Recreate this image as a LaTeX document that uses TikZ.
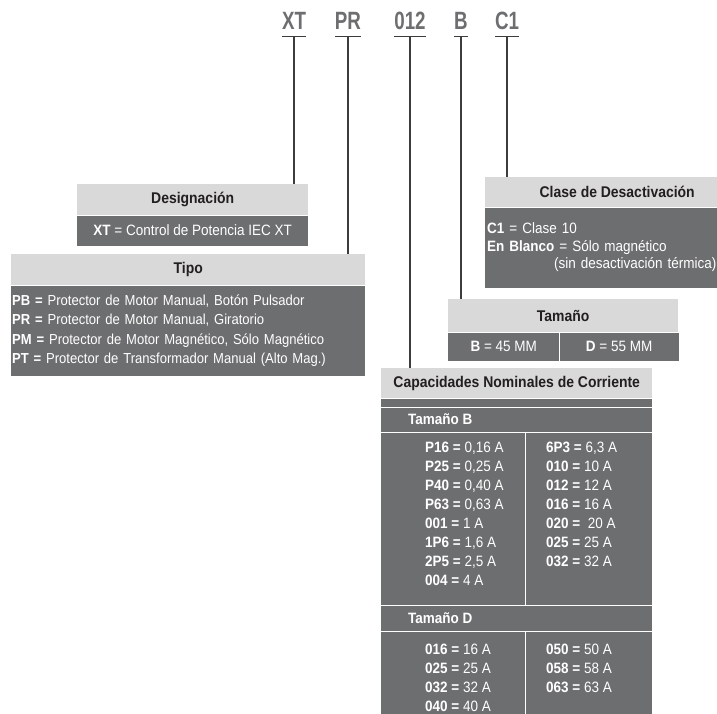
\documentclass[tikz,border=0pt]{standalone}
\usepackage{fontspec}
\setmainfont[FakeStretch=0.9]{Liberation Sans}
\newfontfamily\codefont[FakeStretch=0.75]{Liberation Sans}
\usetikzlibrary{positioning}
\definecolor{headgrey}{HTML}{D9D9DA}
\definecolor{bodygrey}{HTML}{6D6E70}
\definecolor{inkblack}{HTML}{231F20}
\definecolor{stemgrey}{HTML}{3C3C3C}
\tikzset{head/.style = {fill = headgrey, text = inkblack, inner sep = 0pt, font = \bfseries\fontsize{15.5}{18}\selectfont}}
\tikzset{body/.style = {fill = bodygrey, text = white, inner sep = 0pt, font = \fontsize{15}{19.3}\selectfont}}
\tikzset{code/.style = {text = bodygrey, inner sep = 0pt, font = \codefont\bfseries\fontsize{25}{25}\selectfont}}
\tikzset{cell/.style = {text = white, inner sep = 0pt, align = left, font = \fontsize{15}{19}\selectfont}}
\tikzset{stem/.style = {draw = stemgrey, line width = 1.3pt}}
\tikzset{rule/.style = {draw = white, line width = 1pt}}

\begin{document}
\begin{tikzpicture}[x = 1pt, y = -1pt]
\useasboundingbox (0, 0) rectangle (717, 714);

% code letters
\node[code, anchor = base] (xt) at (294, 30) {XT};
\node[code, anchor = base] (pr) at (348, 30) {PR};
\node[code, anchor = base] (amp) at (410, 30) {012};
\node[code, anchor = base] (size) at (461, 30) {B};
\node[code, anchor = base] (trip) at (507, 30) {C1};

% Designacion
\node[head, anchor = north west, minimum width = 231, minimum height = 31] (desig) at (77, 184) {Designación};
\node[body, below = 0pt of desig, minimum width = 231, minimum height = 30] (desigtxt) {\textbf{XT} = Control de Potencia IEC XT};

% Tipo
\node[head, anchor = north west, minimum width = 354, minimum height = 31] (tipo) at (11, 254) {Tipo};
\node[body, below = 0pt of tipo, minimum width = 354, minimum height = 90, text width = 352, align = left, font = \fontsize{14.5}{19.3}\selectfont] (tipotxt) {\textbf{PB =} Protector de Motor Manual, Botón Pulsador\\
	\textbf{PR =} Protector de Motor Manual, Giratorio\\
	\textbf{PM =} Protector de Motor Magnético, Sólo Magnético\\
	\textbf{PT =} Protector de Transformador Manual (Alto Mag.)};

% Clase de Desactivacion
\node[head, anchor = north west, minimum width = 232, minimum height = 30] (clase) at (485, 177) {\hspace*{32pt}Clase de Desactivación};
\node[body, below = 0pt of clase, minimum width = 232, minimum height = 80, text width = 228, align = left, font = \fontsize{15}{17.5}\selectfont] (clasetxt) {\textbf{C1} = Clase 10\\
	\textbf{En Blanco} = Sólo magnético\\
	\hspace*{67pt}\makebox[0pt][l]{(sin desactivación térmica)}};

% Tamano
\node[head, anchor = north west, minimum width = 230, minimum height = 33] (tam) at (448, 299) {Tamaño};
\node[body, anchor = north west, minimum width = 111, minimum height = 28] (tamb) at (tam.south west) {\textbf{B} = 45 MM};
\node[body, right = 0pt of tamb, minimum width = 119, minimum height = 28] (tamd) {\textbf{D} = 55 MM};
\draw[rule] (tamb.north east) -- (tamb.south east);

% Capacidades Nominales de Corriente
\node[head, anchor = north west, minimum width = 271, minimum height = 30] (cap) at (381, 368) {Capacidades Nominales de Corriente};
\node[body, below = 0pt of cap, minimum width = 271, minimum height = 316] (captab) {};
\draw[rule] (381, 407) -- (652, 407);
\draw[rule] (381, 432) -- (652, 432);
\draw[rule] (381, 605) -- (652, 605);
\draw[rule] (381, 631) -- (652, 631);
\draw[rule] (525, 432) -- (525, 605);
\draw[rule] (525, 631) -- (525, 714);

\node[cell, anchor = west, font = \bfseries\fontsize{15}{19}\selectfont] (rowb) at (408, 419.5) {Tamaño B};
\node[cell, anchor = north west] (rowbl) at (425, 441.5) {\textbf{P16 =} 0,16 A\\ \textbf{P25 =} 0,25 A\\ \textbf{P40 =} 0,40 A\\ \textbf{P63 =} 0,63 A\\
	\textbf{001 =} 1 A\\ \textbf{1P6 =} 1,6 A\\ \textbf{2P5 =} 2,5 A\\ \textbf{004 =} 4 A};
\node[cell, anchor = north west] (rowbr) at (546, 441.5) {\textbf{6P3 =} 6,3 A\\ \textbf{010 =} 10 A\\ \textbf{012 =} 12 A\\ \textbf{016 =} 16 A\\
	\textbf{020 =}\ \ 20 A\\ \textbf{025 =} 25 A\\ \textbf{032 =} 32 A};

\node[cell, anchor = west, font = \bfseries\fontsize{15}{19}\selectfont] (rowd) at (408, 618) {Tamaño D};
\node[cell, anchor = north west] (rowdl) at (425, 643.5) {\textbf{016 =} 16 A\\ \textbf{025 =} 25 A\\ \textbf{032 =} 32 A\\ \textbf{040 =} 40 A};
\node[cell, anchor = north west] (rowdr) at (546, 643.5) {\textbf{050 =} 50 A\\ \textbf{058 =} 58 A\\ \textbf{063 =} 63 A};

% underlines and stems
\draw[stem] ([yshift = -6pt] xt.south west) -- ([yshift = -6pt] xt.south east);
\draw[stem] ([yshift = -6pt] pr.south west) -- ([yshift = -6pt] pr.south east);
\draw[stem] ([yshift = -6pt] amp.south west) -- ([yshift = -6pt] amp.south east);
\draw[stem] ([yshift = -6pt] size.south west) -- ([yshift = -6pt] size.south east);
\draw[stem] ([yshift = -6pt] trip.south west) -- ([yshift = -6pt] trip.south east);

\draw[stem] ([yshift = -6pt] xt.south) -- (xt.south |- desig.north);
\draw[stem] ([yshift = -6pt] pr.south) -- (pr.south |- tipo.north);
\draw[stem] ([yshift = -6pt] amp.south) -- (amp.south |- cap.north);
\draw[stem] ([yshift = -6pt] size.south) -- (size.south |- tam.north);
\draw[stem] ([yshift = -6pt] trip.south) -- (trip.south |- clase.north);
\end{tikzpicture}
\end{document}
